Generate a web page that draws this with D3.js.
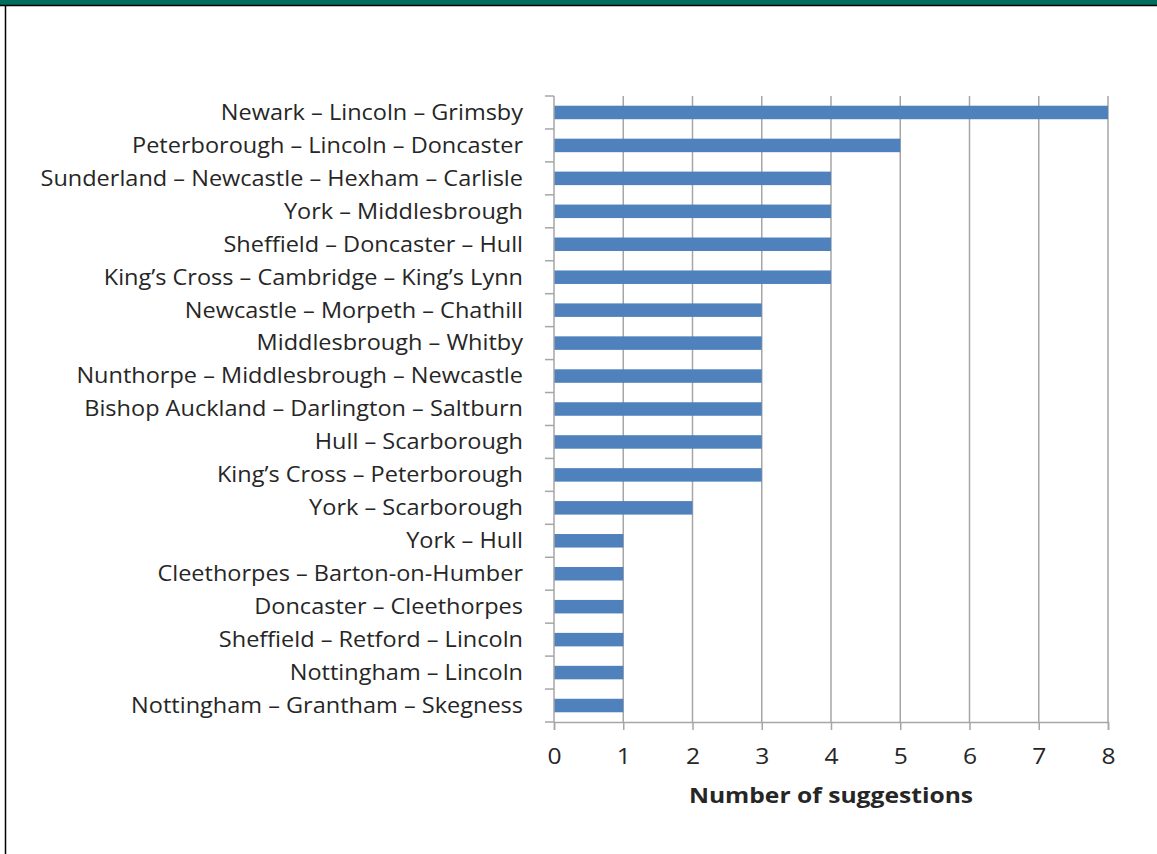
<!DOCTYPE html>
<html>
<head>
<meta charset="utf-8">
<script src="https://cdn.jsdelivr.net/npm/d3@7"></script>
<style>
  body { margin: 0; background: #fff; }
  svg { display: block; }
</style>
</head>
<body>
<svg id="chart" width="1157" height="854"></svg>
<script>
const routes = [
    "Newark – Lincoln – Grimsby",
    "Peterborough – Lincoln – Doncaster",
    "Sunderland – Newcastle – Hexham – Carlisle",
    "York – Middlesbrough",
    "Sheffield – Doncaster – Hull",
    "King’s Cross – Cambridge – King’s Lynn",
    "Newcastle – Morpeth – Chathill",
    "Middlesbrough – Whitby",
    "Nunthorpe – Middlesbrough – Newcastle",
    "Bishop Auckland – Darlington – Saltburn",
    "Hull – Scarborough",
    "King’s Cross – Peterborough",
    "York – Scarborough",
    "York – Hull",
    "Cleethorpes – Barton-on-Humber",
    "Doncaster – Cleethorpes",
    "Sheffield – Retford – Lincoln",
    "Nottingham – Lincoln",
    "Nottingham – Grantham – Skegness"
];
const suggestions = [8, 5, 4, 4, 4, 4, 3, 3, 3, 3, 3, 3, 2, 1, 1, 1, 1, 1, 1];
const xTicks = [0, 1, 2, 3, 4, 5, 6, 7, 8];

const svg = d3.select("#chart");
const width = +svg.attr("width");
const height = +svg.attr("height");

const margin = { left: 554, right: 49, top: 96, bottom: 132 };
const gridColor = "#a6a6a6";
const textColor = "#262626";
const font = "'Open Sans', 'Noto Sans', sans-serif";

// frame: green strip on top, thin black lines
svg.append("rect").attr("x", 0).attr("y", 0).attr("width", width).attr("height", 5).attr("fill", "#006e5e");
svg.append("line").attr("x1", 0).attr("x2", width).attr("y1", 5.5).attr("y2", 5.5).attr("stroke", "#000").attr("stroke-width", 1.5);
svg.append("line").attr("x1", 5.5).attr("x2", 5.5).attr("y1", 5).attr("y2", height).attr("stroke", "#000").attr("stroke-width", 1.5);

const x = d3.scaleLinear()
    .domain([0, 8])
    .range([margin.left, width - margin.right]);

const y = d3.scaleBand()
    .domain(routes)
    .range([margin.top, height - margin.bottom])
    .paddingInner(0.59)
    .paddingOuter(0.295);

const yBottom = height - margin.bottom;

// vertical gridlines
svg.append("g")
    .selectAll("line")
    .data(xTicks.slice(1))
    .join("line")
    .attr("x1", d => x(d))
    .attr("x2", d => x(d))
    .attr("y1", margin.top)
    .attr("y2", yBottom)
    .attr("stroke", gridColor)
    .attr("stroke-width", 1.5);

// bars
svg.append("g")
    .selectAll("rect")
    .data(routes)
    .join("rect")
    .attr("x", x(0))
    .attr("y", d => y(d))
    .attr("width", (d, i) => x(suggestions[i]) - x(0))
    .attr("height", y.bandwidth())
    .attr("fill", "#4f81bd");

// x axis
const xAxis = svg.append("g")
    .attr("transform", `translate(0,${yBottom})`)
    .call(d3.axisBottom(x).tickValues(xTicks).tickSize(8).tickPadding(18));
xAxis.select(".domain").attr("stroke", gridColor).attr("stroke-width", 1.5);
xAxis.selectAll(".tick line").attr("stroke", gridColor).attr("stroke-width", 1.5);
xAxis.selectAll(".tick text")
    .attr("transform", "scale(1.12,1)")
    .attr("font-family", font)
    .attr("font-size", 22)
    .attr("fill", textColor);

// y axis with ticks at category boundaries
const step = y.step();
const boundaries = d3.range(routes.length + 1).map(i => margin.top + i * step);
svg.append("g")
    .selectAll("line")
    .data(boundaries)
    .join("line")
    .attr("x1", x(0) - 9)
    .attr("x2", x(0))
    .attr("y1", d => d)
    .attr("y2", d => d)
    .attr("stroke", gridColor)
    .attr("stroke-width", 1.5);
svg.append("line")
    .attr("x1", x(0)).attr("x2", x(0))
    .attr("y1", margin.top).attr("y2", yBottom)
    .attr("stroke", gridColor).attr("stroke-width", 1.5);

// category labels, stretched a little to match the wide original lettering
svg.append("g")
    .selectAll("text")
    .data(routes)
    .join("text")
    .attr("transform", d => `translate(523,${y(d) + y.bandwidth() / 2}) scale(1.12,1)`)
    .attr("dy", "0.35em")
    .attr("text-anchor", "end")
    .attr("font-family", font)
    .attr("font-size", 21)
    .attr("fill", textColor)
    .text(d => d);

// axis title
svg.append("text")
    .attr("transform", `translate(${(x(0) + x(8)) / 2},803) scale(1.12,1)`)
    .attr("text-anchor", "middle")
    .attr("font-family", font)
    .attr("font-size", 22)
    .attr("font-weight", "bold")
    .attr("fill", textColor)
    .text("Number of suggestions");
</script>
</body>
</html>
